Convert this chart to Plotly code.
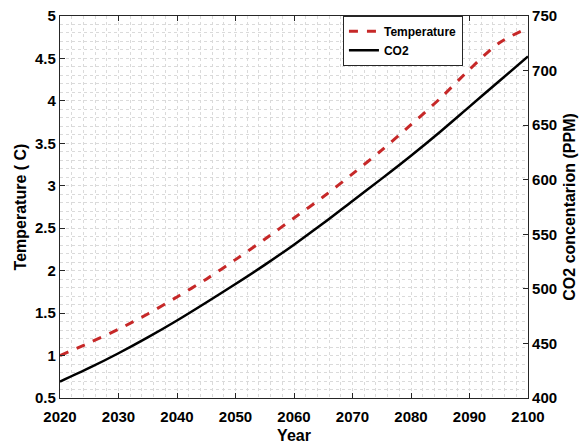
import plotly.graph_objects as go

years = [2020, 2025, 2030, 2035, 2040, 2045, 2050, 2055, 2060, 2065, 2070,
         2075, 2080, 2085, 2090, 2095, 2100]
temperature = [1.00, 1.15, 1.31, 1.49, 1.69, 1.90, 2.13, 2.37, 2.62, 2.87, 3.14,
               3.42, 3.72, 4.03, 4.37, 4.68, 4.86]
co2 = [415, 427.5, 441, 455.5, 471, 487.5, 504.5, 522, 540.5, 560, 580.5,
       601, 622, 644, 667, 690, 713]

x_ticks = [2020, 2030, 2040, 2050, 2060, 2070, 2080, 2090, 2100]
y_ticks = [0.5, 1, 1.5, 2, 2.5, 3, 3.5, 4, 4.5, 5]
y2_ticks = [400, 450, 500, 550, 600, 650, 700, 750]

FONT = "Liberation Sans, Arial, Helvetica, sans-serif"
AX = "#262626"
GRID = "#dadada"

fig = go.Figure()
fig.add_trace(go.Scatter(
    x=years, y=temperature, name="Temperature", mode="lines",
    line=dict(color="#c62828", width=3, dash="dash", shape="spline", smoothing=0.8),
    yaxis="y"))
fig.add_trace(go.Scatter(
    x=years, y=co2, name="CO2", mode="lines",
    line=dict(color="black", width=2.5, shape="spline", smoothing=0.8),
    yaxis="y2"))

tickfont = dict(family=FONT, size=15, color="black", weight="bold")
titlefont = dict(family=FONT, size=16, color="black", weight="bold")

fig.update_layout(
    width=580, height=444,
    margin=dict(l=60, r=52, t=16, b=46),
    paper_bgcolor="white", plot_bgcolor="white",
    showlegend=True,
    legend=dict(x=0.861, y=0.935, xanchor="right", yanchor="middle",
                bgcolor="white", bordercolor="#262626", borderwidth=1,
                font=dict(family=FONT, size=12, color="black", weight="bold"),
                tracegroupgap=0, itemwidth=30),
    xaxis=dict(
        range=[2020, 2100], tickvals=x_ticks, ticktext=[str(v) for v in x_ticks],
        showline=True, linecolor=AX, linewidth=1.2, mirror="ticks",
        ticks="inside", ticklen=5, tickcolor=AX, ticklabelstandoff=5,
        showgrid=True, gridcolor=GRID, griddash="dot", gridwidth=1,
        minor=dict(dtick=2, tick0=2020, showgrid=True, gridcolor=GRID,
                   griddash="dot", gridwidth=1),
        zeroline=False, tickfont=tickfont, automargin=False,
        title=dict(text="Year", font=titlefont, standoff=9)),
    yaxis=dict(
        range=[0.5, 5], tickvals=y_ticks, ticktext=[f"{v:g}" for v in y_ticks],
        showline=True, linecolor=AX, linewidth=1.2,
        ticks="inside", ticklen=5, tickcolor=AX,
        showgrid=True, gridcolor=GRID, griddash="dot", gridwidth=1,
        minor=dict(dtick=0.1, tick0=0.5, showgrid=True, gridcolor=GRID,
                   griddash="dot", gridwidth=1),
        zeroline=False, tickfont=tickfont, automargin=False,
        title=dict(text="Temperature ( C)", font=titlefont, standoff=4)),
    yaxis2=dict(
        range=[400, 750], tickvals=y2_ticks, ticktext=[str(v) for v in y2_ticks],
        overlaying="y", side="right",
        showline=True, linecolor=AX, linewidth=1.2,
        ticks="inside", ticklen=5, tickcolor=AX,
        showgrid=False, zeroline=False, tickfont=tickfont, automargin=False),
    annotations=[dict(
        text="CO2 concentarion (PPM)", xref="paper", yref="paper",
        x=1.087, y=0.5, xanchor="center", yanchor="middle",
        textangle=-90, showarrow=False, font=titlefont)],
)

fig.write_html("out.html", config={"displayModeBar": False},
               post_script="document.body.style.margin='0';document.body.style.padding='0';")
